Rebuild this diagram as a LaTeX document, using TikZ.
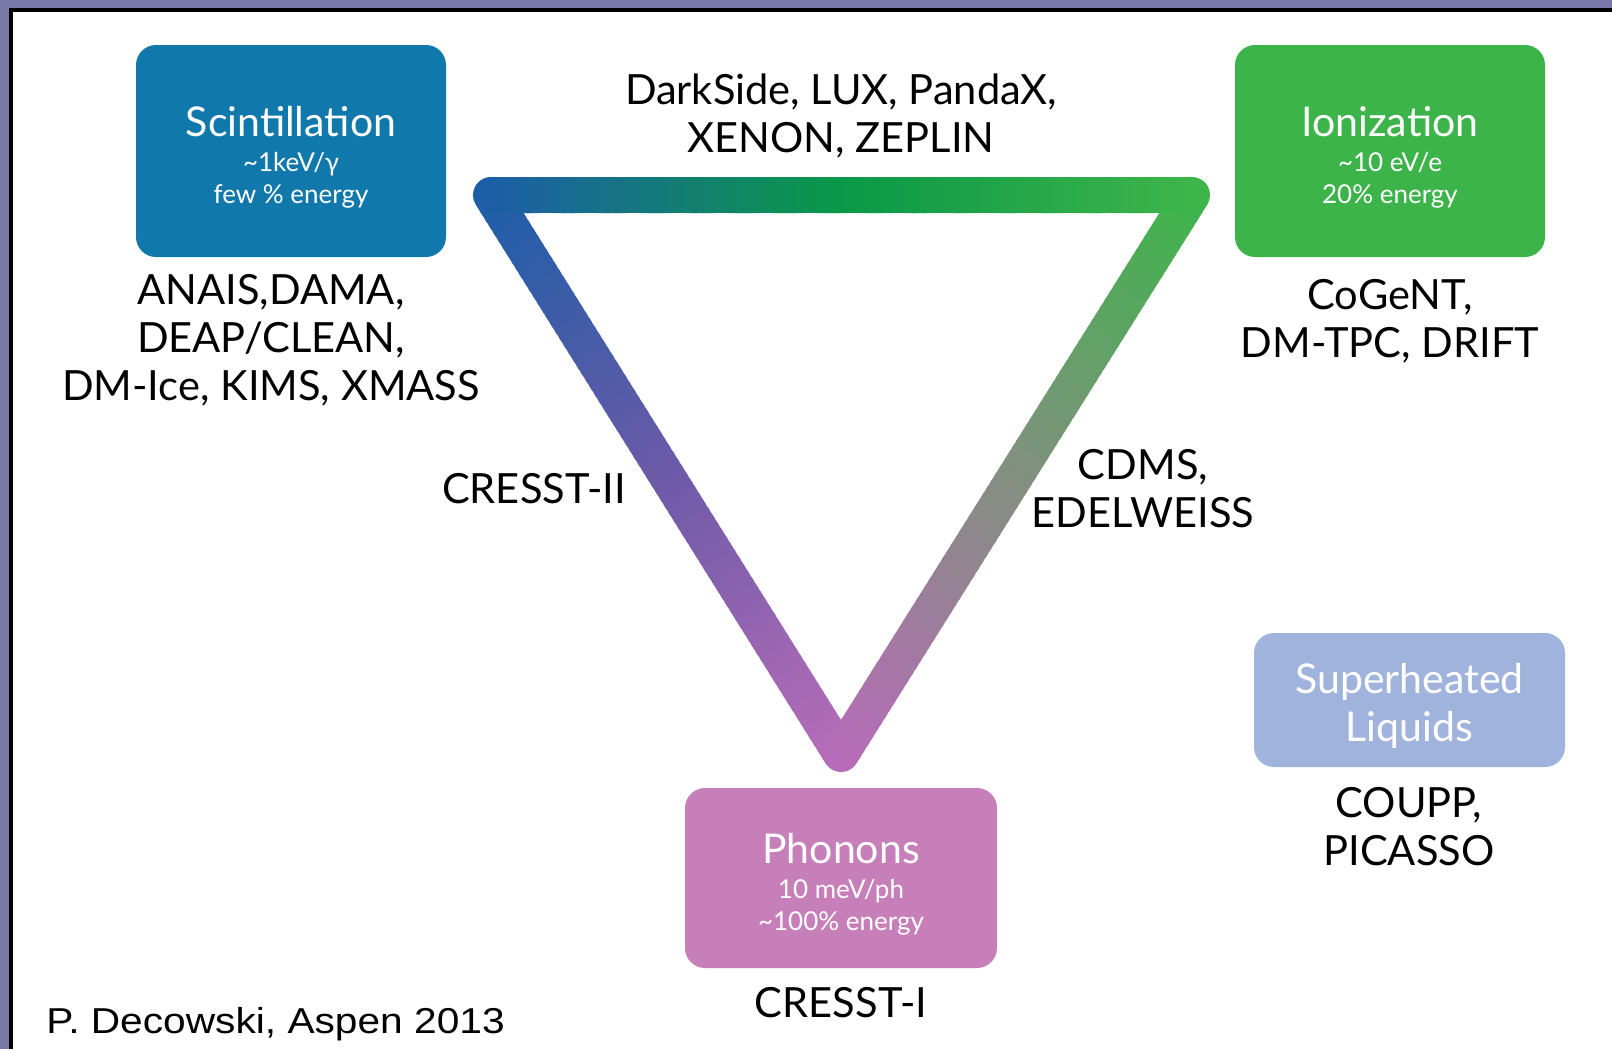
\documentclass[tikz,border=0pt]{standalone}
\usepackage{fontspec}
\setmainfont{Lato}
\newfontfamily\creditfont[FakeStretch=1.13]{Liberation Sans}
\usetikzlibrary{calc}

\definecolor{framepurple}{HTML}{7A78A8}
\definecolor{scintblue}{HTML}{1178AC}
\definecolor{ionigreen}{HTML}{3DB44A}
\definecolor{phonpink}{HTML}{C77FB9}
\definecolor{superblue}{HTML}{A0B3DC}
% colours along the triangle band
\definecolor{cornerA}{HTML}{1D5EA8}
\definecolor{cornerB}{HTML}{3DB54A}
\definecolor{cornerC}{HTML}{B66CB8}
\definecolor{midAB}{HTML}{0A9848}
\definecolor{midAC}{HTML}{6C5AA8}
\definecolor{midBC}{HTML}{82907F}

\newcommand\cattitlefont{\fontsize{20.5}{24}\selectfont}
% a little extra head room above the first line of a box
\newcommand\headroom{\rule{0pt}{21pt}}

% one straight side of the band, shaded #3 -> #4 -> #5 from #1 to #2
\newcommand\bandedge[5]{%
  \foreach \k in {0,...,79}{%
    \pgfmathsetmacro\pa{\k/80}%
    \pgfmathsetmacro\pb{min((\k+1.6)/80,1)}%
    \ifnum\k<40
      \pgfmathtruncatemacro\mixp{100-100*(\k+0.5)/40}%
      \colorlet{segcol}{#3!\mixp!#4}%
    \else
      \pgfmathtruncatemacro\mixp{100-100*(\k-39.5)/40}%
      \colorlet{segcol}{#4!\mixp!#5}%
    \fi
    \draw[band, draw=segcol] ($(#1)!\pa!(#2)$) -- ($(#1)!\pb!(#2)$);
  }}

\begin{document}
\begin{tikzpicture}[x=0.5pt,y=-0.5pt,
  band/.style={line width=18pt, line cap=butt},
  catbox/.style={rounded corners=10pt, minimum width=155pt, minimum height=106pt,
    text=white, align=center, inner sep=0pt, font=\fontsize{13}{16}\selectfont},
  lbl/.style={align=center, inner sep=0pt, text=black, font=\fontsize{20.8}{24}\selectfont}]

\useasboundingbox (0,0) rectangle (1612,1049);
\fill[white] (0,0) rectangle (1612,1049);

% slide frame
\fill[framepurple] (0,0) rectangle (1612,8);
\fill[framepurple] (0,0) rectangle (9,1049);
\fill[black] (9,8) rectangle (1612,12);
\fill[black] (9,8) rectangle (13,1049);

% triangle corners
\coordinate (A) at (491,195);
\coordinate (B) at (1192,195);
\coordinate (C) at (841,754);

\fill[cornerA] (A) circle[radius=18];
\fill[cornerB] (B) circle[radius=18];
\fill[cornerC] (C) circle[radius=18];
\bandedge{A}{C}{cornerA}{midAC}{cornerC}
\bandedge{B}{C}{cornerB}{midBC}{cornerC}
\bandedge{A}{B}{cornerA}{midAB}{cornerB}

% channel boxes
\node[catbox, fill=scintblue] (scint) at (291,151)
  {\headroom{\cattitlefont Scintillation}\\[1.5pt] \textasciitilde 1keV/γ\\ few \% energy};
\node[catbox, fill=ionigreen] (ioni) at (1390,151)
  {\headroom{\cattitlefont Ionization}\\[1.5pt] \textasciitilde 10 eV/e\\ 20\% energy};
\node[catbox, fill=phonpink, minimum width=156pt, minimum height=90pt] (phon) at (841,878)
  {\headroom{\cattitlefont Phonons}\\[1.5pt] 10 meV/ph\\ \textasciitilde 100\% energy};
\node[catbox, fill=superblue, minimum width=155.5pt, minimum height=67pt,
  font=\cattitlefont] (super) at (1409.5,700)
  {\headroom Superheated\\ Liquids};

% experiments
\node[lbl] (top) at (841,116) {DarkSide, LUX, PandaX,\\ XENON, ZEPLIN};
\node[lbl] (scintexp) at (271,340) {ANAIS,DAMA,\\ DEAP/CLEAN,\\ DM-Ice, KIMS, XMASS};
\node[lbl] (ioniexp) at (1390,321) {CoGeNT,\\ DM-TPC, DRIFT};
\node[lbl] (left) at (534,489) {CRESST-II};
\node[lbl] (right) at (1143,489) {CDMS,\\ EDELWEISS};
\node[lbl] (superexp) at (1409,827) {COUPP,\\ PICASSO};
\node[lbl] (phonexp) at (841,1003) {CRESST-I};

\node[anchor=base west, inner sep=0pt, font=\creditfont\fontsize{18}{20}\selectfont]
  (credit) at (46,1033) {P. Decowski, Aspen 2013};
\end{tikzpicture}
\end{document}
